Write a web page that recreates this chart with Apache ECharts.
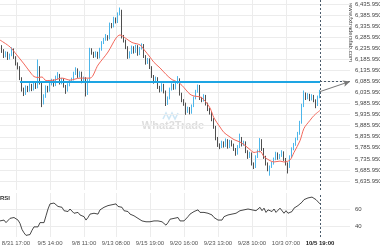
<!DOCTYPE html>
<html><head><meta charset="utf-8">
<script src="https://cdn.jsdelivr.net/npm/echarts@6/dist/echarts.min.js"></script>
<style>html,body{margin:0;padding:0;background:#fff}#c{width:380px;height:250px}</style>
</head><body><div id="c"></div>
<script>
// ---- data ----
const tickIdx = [8,25,42,58,75,92,109,126,143,160];
const tickLabels = ['8/31 17:00','9/5 14:00','9/8 11:00','9/13 08:00','9/15 19:00','9/20 16:00','9/23 13:00','9/28 10:00','10/3 07:00','10/5 19:00'];
const slotCount = 176;
const priceTicks = [6435.95,6385.95,6335.95,6285.95,6235.95,6185.95,6135.95,6085.95,6035.95,5985.95,5935.95,5885.95,5835.95,5785.95,5735.95,5685.95,5635.95];
const rsiTicks = [40,60];
const levelPrice = 6085.95;
const levelStartIdx = 10;
const lastIdx = 160;
const lastClose = 6040;
// [open, close, low, high]
const candles = [
[6250,6240,6232,6258],
[6240,6225,6215,6250],[6225,6200,6192,6232],[6200,6215,6195,6222],[6215,6190,6183,6220],[6190,6205,6185,6212],
[6205,6230,6200,6240],[6230,6195,6188,6235],[6195,6165,6158,6200],[6165,6150,6140,6172],[6150,6100,6092,6155],
[6100,6050,6040,6105],[6050,6030,6020,6058],[6030,6060,6025,6068],[6060,6045,6038,6066],[6045,6070,6040,6078],
[6070,6050,6042,6075],[6050,6075,6045,6082],[6075,6060,6052,6080],[6060,6150,6055,6185],[6150,6080,6072,6155],
[6080,5990,5970,6085],[5990,6020,5982,6028],[6020,6060,6012,6068],[6060,6045,6036,6066],[6045,6075,6040,6082],
[6075,6090,6068,6098],[6090,6070,6062,6095],[6070,6100,6065,6112],[6100,6115,6095,6128],[6115,6080,6072,6120],
[6080,6095,6073,6102],[6095,6065,6058,6100],[6065,6045,6030,6070],[6045,6070,6040,6078],[6070,6085,6064,6092],
[6085,6095,6080,6103],[6095,6120,6090,6130],[6120,6140,6115,6150],[6140,6110,6102,6145],[6110,6125,6104,6132],
[6125,6085,6078,6130],[6085,6100,6080,6108],[6100,6030,6018,6105],[6030,6090,6025,6098],[6090,6230,6085,6238],
[6230,6215,6207,6236],[6215,6200,6192,6220],[6200,6215,6195,6222],[6215,6195,6188,6220],[6195,6230,6190,6238],
[6230,6260,6225,6268],[6260,6275,6255,6283],[6275,6290,6270,6300],[6290,6280,6270,6295],[6280,6345,6276,6352],
[6345,6335,6326,6350],[6335,6370,6330,6378],[6370,6355,6348,6375],[6355,6390,6350,6398],[6390,6405,6385,6420],
[6405,6290,6280,6410],[6290,6270,6262,6296],[6270,6240,6232,6275],[6240,6195,6188,6245],[6195,6215,6190,6222],
[6215,6240,6210,6248],[6240,6220,6212,6245],[6220,6245,6215,6252],[6245,6210,6202,6250],[6210,6235,6205,6242],
[6235,6250,6230,6258],[6250,6200,6192,6255],[6200,6170,6162,6205],[6170,6185,6165,6192],[6185,6150,6142,6190],
[6150,6110,6102,6155],[6110,6085,6076,6115],[6085,6100,6080,6108],[6100,6060,6052,6105],[6060,6045,6036,6066],
[6045,6070,6040,6078],[6070,6040,6032,6075],[6040,5985,5975,6045],[5985,6010,5980,6018],[6010,6050,6005,6058],
[6050,6070,6045,6078],[6070,6055,6048,6075],[6055,6080,6050,6088],[6080,6095,6075,6110],[6095,6030,6022,6100],
[6030,6000,5992,6035],[6000,5985,5976,6006],[5985,5950,5935,5990],[5950,5965,5944,5972],[5965,5945,5937,5970],
[5945,5975,5940,5982],[5975,6010,5970,6018],[6010,6040,6005,6048],[6040,6065,6035,6072],[6065,6010,6002,6070],
[6010,6000,5992,6016],[6000,6020,5995,6028],[6020,5985,5977,6025],[5985,5960,5952,5990],[5960,5945,5936,5966],
[5945,5915,5906,5950],[5915,5880,5872,5920],[5880,5830,5820,5885],[5830,5800,5790,5835],[5800,5790,5780,5806],
[5790,5810,5785,5818],[5810,5795,5787,5815],[5795,5820,5790,5828],[5820,5790,5782,5825],[5790,5815,5785,5822],
[5815,5800,5792,5820],[5800,5780,5772,5805],[5780,5760,5750,5785],[5760,5790,5755,5798],[5790,5830,5785,5850],
[5830,5800,5792,5835],[5800,5810,5795,5818],[5810,5770,5762,5815],[5770,5745,5736,5775],[5745,5760,5740,5768],
[5760,5715,5706,5765],[5715,5700,5690,5720],[5700,5745,5695,5752],[5745,5770,5740,5778],[5770,5820,5765,5830],
[5820,5780,5772,5825],[5780,5745,5736,5785],[5745,5715,5706,5750],[5715,5690,5680,5720],[5690,5700,5660,5706],
[5700,5715,5695,5722],[5715,5735,5710,5742],[5735,5760,5730,5768],[5760,5740,5732,5765],[5740,5750,5735,5758],
[5750,5765,5745,5775],[5765,5735,5727,5770],[5735,5715,5706,5740],[5715,5700,5670,5720],[5700,5745,5695,5752],
[5745,5780,5740,5788],[5780,5800,5775,5808],[5800,5825,5795,5832],[5825,5850,5820,5858],[5850,5900,5845,5908],
[5900,5975,5895,5985],[5975,6030,5970,6045],[6030,6010,6002,6036],[6010,6025,6005,6033],[6025,6005,5997,6030],
[6005,6020,6000,6028],[6020,6000,5992,6025],[6000,5980,5965,6005],[5980,6015,5975,6022],[6015,6040,6010,6048]
];
// moving average [slot index, value]
const maPoints = [[0,6273],[5,6242],[8,6210],[12,6165],[15,6129],[17,6108],[19,6104],[21,6106],[23,6090],[27,6092],[31,6101],[35,6092],[40,6101],[45,6101],[49,6160],[54,6219],[58,6282],[60,6296],[63,6280],[66,6262],[70,6251],[72,6230],[75,6196],[77,6172],[80,6147],[83,6118],[86,6094],[89,6083],[91,6068],[95,6028],[97,6020],[100,6016],[102,6003],[105,5966],[107,5921],[110,5880],[112,5855],[115,5835],[117,5823],[120,5812],[122,5800],[125,5778],[127,5765],[130,5770],[132,5746],[135,5728],[137,5722],[140,5726],[142,5722],[145,5731],[147,5765],[150,5818],[152,5874],[155,5910],[157,5932],[160,5955]];
const rsi = [46,
46,47,44,46,49,48,50,49,47,43, 36,32,29,31,30,35,39,41,39,44, 46,44,52,60,66,64,67,65,63,61,
62,58,60,57,60,58,55,54,56,53, 55,51,47,50,54,52,55,53,54,59, 58,62,61,64,63,65,64,66,63,65,
62,58,56,57,54,55,52,53,49,48, 46,47,45,46,45,47,46,48,46,47, 45,43,41,44,48,50,49,51,50,46,
48,46,48,51,54,53,57,58,59,56, 57,56,57,55,56,53,50,49,47,45, 47,51,50,53,52,54,53,55,54,58,
57,59,61,60,61,59,61,58,60,62, 58,61,56,59,61,57,60,56,58,61, 59,55,58,55,54,57,61,62,64,66,
68,71,72,73,75,74,72,71,69,66];

const categories = Array.from({length: slotCount}, (_, i) => String(i));
const gridIdx = tickIdx.slice(0, -1);
const fmtPrice = v => Number(v).toLocaleString('en-US', {minimumFractionDigits:3, maximumFractionDigits:3});
const FONT = 'Liberation Sans, Arial, sans-serif';

const chart = echarts.init(document.getElementById('c'), null, {renderer:'canvas'});
const gridLine = {show:true, lineStyle:{color:'#ececec', width:1}};
const vLine = {xAxis: lastIdx, lineStyle:{color:'#4a5b6b', type:[2,2], width:1}};

chart.setOption({
  animation:false,
  backgroundColor:'#fff',
  textStyle:{fontFamily:FONT},
  grid:[
    {left:0, right:30, top:0, height:190, containLabel:false, outerBoundsMode:'none'},
    {left:0, right:30, top:193, height:44, containLabel:false, outerBoundsMode:'none'}
  ],
  xAxis:[
    {type:'category', gridIndex:0, data:categories, boundaryGap:false,
     axisLine:{show:false}, axisTick:{show:false}, axisLabel:{show:false},
     splitLine:Object.assign({interval:(i)=>gridIdx.includes(i)}, gridLine)},
    {type:'category', gridIndex:1, data:categories, boundaryGap:false,
     axisLine:{show:false}, axisTick:{show:false},
     axisLabel:{show:true, interval:(i)=>tickIdx.includes(i), margin:3, fontSize:6, color:'#555', fontFamily:FONT, hideOverlap:false,
       formatter:(v,i)=>{const k=tickIdx.indexOf(Number(v)); if(k<0) return ''; return k===tickIdx.length-1 ? '{b|'+tickLabels[k]+'}' : tickLabels[k];},
       rich:{b:{fontWeight:'bold', color:'#222', fontSize:6, fontFamily:FONT}}},
     splitLine:Object.assign({interval:(i)=>gridIdx.includes(i)}, gridLine)}
  ],
  yAxis:[
    {type:'value', gridIndex:0, position:'right', min:5595.3, max:6454.03,
     axisLine:{show:false}, axisTick:{show:false, customValues:priceTicks},
     axisLabel:{show:true, customValues:priceTicks, formatter:fmtPrice, margin:5, fontSize:6, color:'#444', fontFamily:FONT},
     splitLine:gridLine},
    {type:'value', gridIndex:1, position:'right', min:27.1, max:78.8,
     axisLine:{show:false}, axisTick:{show:false, customValues:rsiTicks},
     axisLabel:{show:true, customValues:rsiTicks, margin:5, fontSize:6, color:'#444', fontFamily:FONT},
     splitLine:gridLine}
  ],
  series:[
    {type:'candlestick', xAxisIndex:0, yAxisIndex:0, data:candles, barWidth:1.3,
     itemStyle:{color:'#4db6ea', color0:'#4f4f4f', borderColor:'#4db6ea', borderColor0:'#4f4f4f', borderWidth:1},
     markLine:{silent:true, symbol:['none','none'], label:{show:false}, animation:false,
       data:[
         [{coord:[levelStartIdx, levelPrice], lineStyle:{color:'#1ea5e3', width:2, type:'solid'}}, {coord:[lastIdx, levelPrice]}],
         [{coord:[lastIdx, levelPrice], lineStyle:{color:'#4a5b6b', width:1, type:[2,2]}}, {coord:[slotCount-1, levelPrice]}],
         [{coord:[lastIdx, lastClose], lineStyle:{color:'#777', width:1, type:'solid'}}, {coord:[slotCount-1, levelPrice], symbol:'arrow', symbolSize:[5,7]}],
         vLine
       ]}},
    {type:'line', xAxisIndex:0, yAxisIndex:0, data:maPoints, showSymbol:false, smooth:0.3,
     lineStyle:{color:'#f2685c', width:1}},
    {type:'line', xAxisIndex:1, yAxisIndex:1, data:rsi, showSymbol:false,
     lineStyle:{color:'#333', width:0.9},
     markLine:{silent:true, symbol:['none','none'], label:{show:false}, animation:false, data:[vLine]}}
  ],
  graphic:[
    {type:'polyline', z:0, silent:true, shape:{points:[[163,119],[166,113],[169,119],[172,113],[175,119],[178,113]]}, style:{stroke:'#cfe7f5', lineWidth:1.6, fill:null}},
    {type:'text', z:0, silent:true, x:173, y:126, style:{text:'What2Trade', font:'bold 11px '+FONT, fill:'#dedede', textAlign:'center', textVerticalAlign:'middle'}},
    {type:'text', silent:true, x:348, y:3, rotation:-Math.PI/2, style:{text:'www.fxtradersfab.com', font:'6px '+FONT, fill:'#444', textAlign:'left', textVerticalAlign:'bottom'}},
    {type:'text', silent:true, x:0, y:198, style:{text:'RSI', font:'bold 6px '+FONT, fill:'#333', textAlign:'left', textVerticalAlign:'middle'}}
  ]
});
</script></body></html>
